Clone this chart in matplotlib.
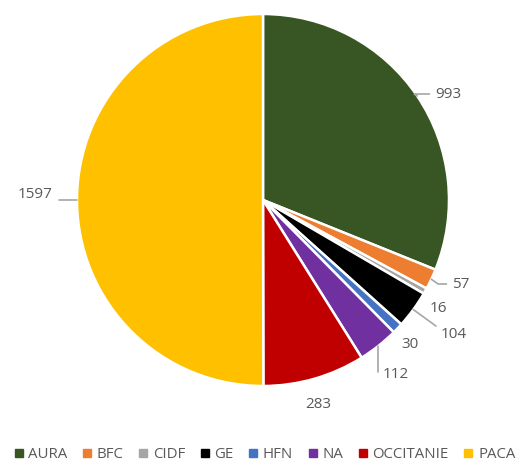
import matplotlib
matplotlib.use('Agg', force=True)

import numpy as np
import matplotlib.pyplot as plt
from matplotlib.lines import Line2D

# ---------------- data ----------------
regions = ['AURA', 'BFC', 'CIDF', 'GE', 'HFN', 'NA', 'OCCITANIE', 'PACA']
counts = [993, 57, 16, 104, 30, 112, 283, 1597]
colors = ['#375623', '#ED7D31', '#A5A5A5', '#000000',
          '#4472C4', '#7030A0', '#C00000', '#FFC000']

plt.rcParams['font.family'] = ['Open Sans', 'DejaVu Sans']
txt_col = '#595959'
line_col = '#A6A6A6'

fig = plt.figure(figsize=(5.27, 4.63), dpi=100)
ax = fig.add_axes([0, 0, 1, 1])

wedges, _ = ax.pie(counts, colors=colors, startangle=90, counterclock=False,
                   radius=1.0, wedgeprops=dict(edgecolor='white', linewidth=1.8))

# pie centre at (263, 200) px, radius 186 px
scale = 186.0
ax.set_xlim(-263 / scale, 264 / scale)
ax.set_ylim(-263 / scale, 200 / scale)
ax.set_aspect('auto')
ax.axis('off')

def px(x, y):
    return ((x - 263) / scale, (200 - y) / scale)

# label placement (text anchor in px, alignment, leader connection or None)
labels = {
    'AURA':      ((435, 94), 'left', 'angle,angleA=0,angleB=-34'),
    'BFC':       ((452, 284), 'left', 'angle,angleA=0,angleB=-35'),
    'CIDF':      ((430, 308), 'left', None),
    'GE':        ((441, 334), 'left', 'angle,angleA=0,angleB=-36'),
    'HFN':       ((401, 345), 'left', None),
    'NA':        ((383, 374), 'left', 'angle,angleA=0,angleB=90'),
    'OCCITANIE': ((305, 404), 'left', None),
    'PACA':      ((53, 195), 'right', 'angle,angleA=-90,angleB=0'),
}

total = float(sum(counts))
cum = 0.0
for name, val in zip(regions, counts):
    mid = (cum + val / 2) / total * 360.0
    cum += val
    theta = np.deg2rad(90 - mid)
    edge = (np.cos(theta), np.sin(theta))
    (tx, ty), ha, conn = labels[name]
    pos = px(tx, ty)
    if conn is not None:
        ax.annotate(str(val), xy=edge, xytext=pos, ha=ha, va='center',
                    fontsize=11, color=txt_col,
                    arrowprops=dict(arrowstyle='-', color=line_col, lw=1.2,
                                    connectionstyle=conn, shrinkA=2, shrinkB=0))
    else:
        ax.text(pos[0], pos[1], str(val), ha=ha, va='center',
                fontsize=11, color=txt_col)

handles = [Line2D([0], [0], marker='s', linestyle='none', markersize=5.5,
                  markerfacecolor=c, markeredgecolor=c) for c in colors]
fig.legend(handles, regions, loc='center', bbox_to_anchor=(0.503, 0.018),
           ncol=len(regions), frameon=False, fontsize=10.8,
           handlelength=0.5, handletextpad=0.4, columnspacing=1.05,
           borderpad=0, borderaxespad=0, labelcolor=txt_col)

plt.savefig('out.png', dpi=100)
